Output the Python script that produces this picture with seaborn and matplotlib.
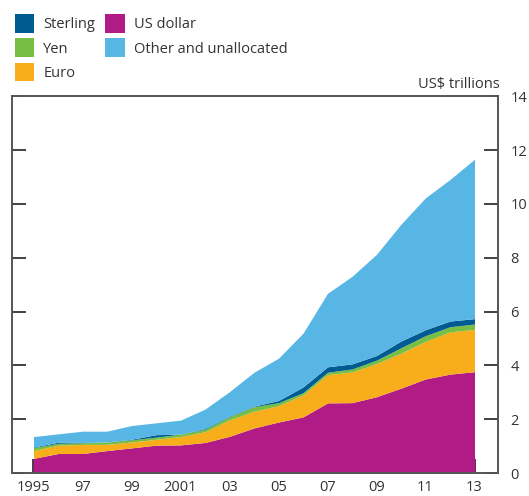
import numpy as np
import pandas as pd
import matplotlib
matplotlib.use("Agg")
import matplotlib.pyplot as plt
import seaborn as sns
from matplotlib.patches import Patch

# Foreign exchange reserves by currency, US$ trillions
years = list(range(1995, 2014))
us_dollar = [0.55, 0.73, 0.73, 0.84, 0.94, 1.04, 1.05, 1.14, 1.37, 1.68,
             1.90, 2.09, 2.61, 2.62, 2.84, 3.16, 3.50, 3.68, 3.77]
euro = [0.29, 0.31, 0.34, 0.23, 0.22, 0.22, 0.31, 0.40, 0.61, 0.62,
        0.61, 0.82, 1.05, 1.14, 1.23, 1.30, 1.40, 1.57, 1.57]
yen = [0.11, 0.07, 0.06, 0.09, 0.08, 0.08, 0.09, 0.09, 0.12, 0.17,
       0.11, 0.08, 0.09, 0.11, 0.13, 0.20, 0.21, 0.19, 0.20]
sterling = [0.02, 0.04, 0.01, 0.00, 0.02, 0.09, 0.00, 0.03, 0.02, 0.02,
            0.08, 0.21, 0.20, 0.19, 0.17, 0.25, 0.22, 0.21, 0.20]
other = [0.39, 0.31, 0.42, 0.40, 0.51, 0.44, 0.52, 0.72, 0.91, 1.26,
         1.57, 2.00, 2.73, 3.25, 3.76, 4.34, 4.90, 5.26, 5.92]

year_labels = ["1995", "", "97", "", "99", "", "2001", "", "03", "", "05",
               "", "07", "", "09", "", "11", "", "13"]

df = pd.DataFrame({"year": years, "US dollar": us_dollar, "Euro": euro,
                   "Yen": yen, "Sterling": sterling,
                   "Other and unallocated": other})

colors = {"Sterling": "#005b92", "Yen": "#77bf44", "Euro": "#f8ad1b",
          "US dollar": "#b01b86", "Other and unallocated": "#58b6e4"}

sns.set_theme(style="white")
plt.rcParams["font.family"] = ["Open Sans", "DejaVu Sans"]
ink = "#333333"

fig = plt.figure(figsize=(5.29, 4.96), dpi=100)
ax = fig.add_axes([0.023, 0.046, 0.918, 0.760])

stack_order = ["US dollar", "Euro", "Yen", "Sterling", "Other and unallocated"]
ax.stackplot(df["year"], [df[c] for c in stack_order],
             colors=[colors[c] for c in stack_order], linewidth=0)

ax.set_xlim(1994.13, 2013.95)
ax.set_ylim(0, 14)
ax.set_xticks(years)
ax.set_xticklabels(year_labels)
ax.set_yticks(range(0, 15, 2))

for s in ax.spines.values():
    s.set_color("#555555")
    s.set_linewidth(1.4)

ax.tick_params(axis="x", direction="in", length=10, width=1.3, color="#4a2040",
               pad=5, labelsize=10.5, labelcolor=ink, bottom=True)
ax.tick_params(axis="y", direction="in", length=10, width=1.3, color=ink,
               left=True, right=True, labelleft=False, labelright=True,
               pad=9, labelsize=10.5, labelcolor=ink)
ax.grid(False)

fig.text(0.945, 0.815, "US$ trillions", ha="right", va="bottom",
         fontsize=10.5, color=ink)

legend_order = ["Sterling", "Yen", "Euro", "US dollar", "Other and unallocated"]
handles = [Patch(facecolor=colors[c], edgecolor="none", label=c) for c in legend_order]
fig.legend(handles=handles, loc="upper left", bbox_to_anchor=(0.003, 0.998),
           ncol=2, frameon=False, fontsize=10.5, handlelength=1.35,
           handleheight=1.6, handletextpad=0.6, columnspacing=0.7,
           labelspacing=0.38, labelcolor=ink)

fig.savefig("out.png", dpi=100)
